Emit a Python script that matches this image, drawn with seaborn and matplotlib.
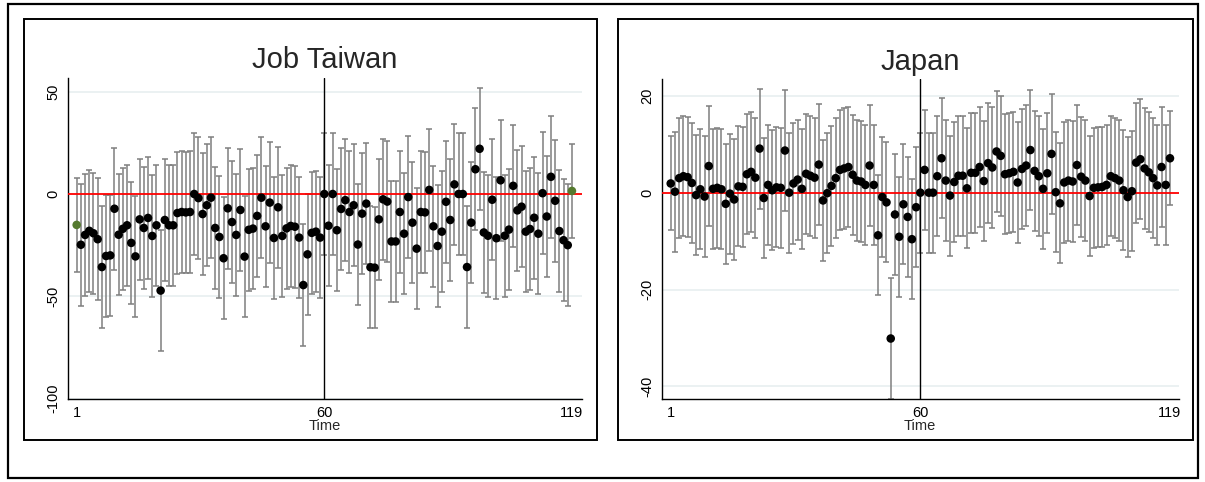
import numpy as np
import pandas as pd
import matplotlib
matplotlib.use("Agg")
import matplotlib.pyplot as plt
from matplotlib.patches import Rectangle
import seaborn as sns

# time index, event at 60
TIME = list(range(1, 120))
EVENT = 60

# Job Taiwan: point estimates and half width of the interval
TW_EST = [-15.1, -24.8, -20.0, -18.0, -19.2, -22.1, -35.7, -30.3, -30.0, -7.2,
          -19.9, -17.0, -15.3, -23.9, -30.5, -12.4, -16.6, -11.7, -20.5, -15.3,
          -47.2, -12.7, -15.3, -15.3, -9.3, -8.8, -9.0, -8.8, 0.0, -2.0,
          -9.8, -5.5, -1.8, -16.6, -21.0, -31.4, -7.0, -13.7, -20.0, -7.8,
          -30.6, -17.5, -16.9, -10.7, -1.8, -15.8, -4.2, -21.5, -6.5, -20.5,
          -16.8, -15.6, -16.0, -21.3, -44.5, -29.5, -19.0, -18.4, -21.3, 0.0,
          -15.5, 0.0, -17.7, -7.3, -3.0, -8.8, -5.5, -24.7, -9.6, -4.7,
          -35.8, -36.0, -12.4, -2.6, -3.7, -23.2, -23.2, -8.8, -19.4, -1.5,
          -14.0, -26.7, -8.8, -9.0, 2.0, -15.8, -25.4, -18.4, -3.8, -12.7,
          4.7, 0.0, 0.0, -35.7, -14.0, 12.1, 22.1, -18.8, -20.4, -2.8,
          -21.6, 6.7, -20.4, -17.4, 4.0, -8.0, -6.2, -18.4, -17.1, -11.6,
          -19.4, 0.4, -11.0, 8.4, -3.3, -18.1, -22.6, -25.0, 1.5]
TW_HW = [23.0] + [29.7] * 117 + [23.0]
TW_GREEN = [1, 119]

# Japan
JP_EST = [1.9, 0.2, 3.0, 3.4, 3.2, 2.0, -0.5, 0.7, -0.8, 5.5,
          0.8, 1.0, 0.7, -2.3, -0.2, -1.4, 1.3, 1.2, 3.8, 4.3,
          3.1, 9.1, -1.1, 1.6, 0.5, 1.1, 1.0, 8.7, 0.0, 1.9,
          2.7, 0.8, 3.9, 3.5, 3.1, 5.8, -1.6, -0.1, 1.4, 3.0,
          4.7, 5.0, 5.3, 3.7, 2.5, 2.3, 1.6, 5.6, 1.6, -8.8,
          -0.9, -2.0, -30.1, -4.5, -9.1, -2.4, -5.0, -9.6, -3.0, 0.0,
          4.7, 0.0, 0.0, 3.4, 7.1, 2.5, -0.6, 2.2, 3.5, 3.5,
          0.9, 4.1, 4.1, 5.3, 2.4, 6.1, 5.2, 8.5, 7.6, 3.8,
          4.0, 4.3, 2.1, 4.9, 5.6, 8.8, 4.5, 3.4, 0.8, 4.0,
          8.0, 0.1, -2.2, 2.1, 2.5, 2.3, 5.7, 3.3, 2.5, -0.7,
          1.0, 1.1, 1.2, 1.6, 3.4, 3.0, 2.5, 0.5, -0.9, 0.3,
          6.2, 6.9, 5.0, 4.2, 3.0, 1.5, 5.3, 1.6, 7.1]
JP_HW = [9.7] + [12.4] * 117 + [9.7]

BAR = "#7f7f7f"
GRID = "#e8eff0"
GREEN = "#557a2f"

W, H = 1205, 482

sns.set_style("white")
plt.rcParams["font.family"] = ["Liberation Sans", "DejaVu Sans"]

fig = plt.figure(figsize=(W / 100, H / 100), dpi=100)


def px_box(x0, y0, x1, y1):
    return [x0 / W, 1 - y1 / H, (x1 - x0) / W, (y1 - y0) / H]


def draw_panel(ax, est, hw, ylim, yticks, xlim, title, green=()):
    df = pd.DataFrame({"time": TIME, "est": est, "hw": hw})
    df["kind"] = np.where(df["time"].isin(green), "end", "mid")

    ax.set_xlim(*xlim)
    ax.set_ylim(*ylim)
    for t in yticks:
        if t != 0:
            ax.axhline(t, color=GRID, lw=1.2, zorder=0)

    ax.errorbar(df["time"], df["est"], yerr=df["hw"], fmt="none", ecolor=BAR,
                elinewidth=1.1, capsize=2.2, capthick=1.1, zorder=2)
    ax.axhline(0, color="red", lw=1.3, zorder=3)
    ax.axvline(EVENT, color="black", lw=1, zorder=3)
    sns.scatterplot(data=df, x="time", y="est", hue="kind",
                    palette={"mid": "black", "end": GREEN}, s=38, linewidth=0,
                    legend=False, ax=ax, zorder=4)

    ax.set_xticks([1, 60, 119])
    ax.set_yticks(yticks)
    ax.set_yticklabels([str(t) for t in yticks], rotation=90, va="center")
    ax.tick_params(direction="out", length=4, width=1, labelsize=10.5, pad=1.5,
                   colors="black")
    ax.set_xlabel("Time", fontsize=10.5, labelpad=-1)
    ax.set_ylabel("")
    for s in ["top", "right"]:
        ax.spines[s].set_visible(False)
    for s in ["left", "bottom"]:
        ax.spines[s].set_color("black")
        ax.spines[s].set_linewidth(1)
    ax.set_title(title, fontsize=21, pad=7)


ax1 = fig.add_axes(px_box(67.7, 78, 582, 398.6))
draw_panel(ax1, TW_EST, TW_HW, (-100, 56.7), [50, 0, -50, -100],
           (-1.14, 121.4), "Job Taiwan", green=TW_GREEN)

ax2 = fig.add_axes(px_box(661.7, 79.3, 1178.7, 398.6))
draw_panel(ax2, JP_EST, JP_HW, (-42.5, 23.4), [20, 0, -20, -40],
           (-1.13, 121.06), "Japan")

# panel frames and outer frame
for box in [(24, 19, 597, 440), (618, 19, 1193, 440)]:
    fig.patches.append(Rectangle(px_box(*box)[:2], *px_box(*box)[2:],
                                 transform=fig.transFigure, fill=False,
                                 edgecolor="black", lw=1.4))
fig.patches.append(Rectangle(px_box(8, 4, 1198, 478)[:2], *px_box(8, 4, 1198, 478)[2:],
                             transform=fig.transFigure, fill=False,
                             edgecolor="black", lw=1.6))

fig.savefig("out.png", dpi=100)
